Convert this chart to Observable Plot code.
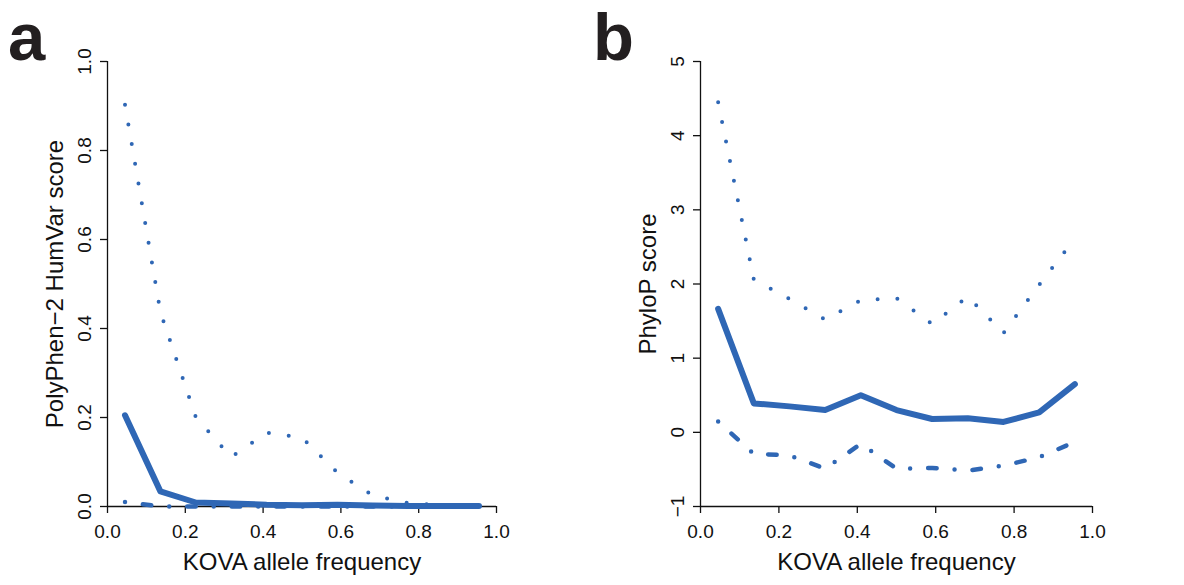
<!DOCTYPE html>
<html>
<head>
<meta charset="utf-8">
<script src="https://cdn.jsdelivr.net/npm/d3@7"></script>
<script src="https://cdn.jsdelivr.net/npm/@observablehq/plot@0.6"></script>
<style>
  html, body { margin: 0; padding: 0; background: #fff; }
  #wrap { position: relative; width: 1184px; height: 585px; overflow: hidden; font-family: "Liberation Sans", Arial, Helvetica, sans-serif; }
  .panel { position: absolute; top: 0; }
  .letter { position: absolute; font-weight: bold; font-size: 67px; line-height: 1; color: #231f20; font-family: "Liberation Sans", Arial, sans-serif; }
</style>
</head>
<body>
<div id="wrap">
  <div class="panel" id="pa" style="left:0px"></div>
  <div class="panel" id="pb" style="left:592px"></div>
  <div class="letter" style="left:8px; top:3px">a</div>
  <div class="letter" style="left:593px; top:3px">b</div>
</div>
<script>
// ---- data ----
const freq = [0.045, 0.136, 0.227, 0.318, 0.409, 0.5, 0.591, 0.682, 0.773, 0.864, 0.955];

// Panel a: PolyPhen-2 HumVar score
const aUpper  = [0.903, 0.437, 0.201, 0.111, 0.166, 0.155, 0.076, 0.025, 0.0075, 0.003, 0.002];
const aMedian = [0.205, 0.034, 0.009, 0.007, 0.004, 0.003, 0.004, 0.002, 0.001, 0.001, 0.001];
const aLower  = [0.010, 0.0, 0.0, 0.0, 0.0, 0.0, 0.0, 0.0, 0.0, 0.0, 0.0];

// Panel b: PhyloP score
const bUpper  = [4.45, 2.06, 1.80, 1.52, 1.78, 1.81, 1.46, 1.83, 1.34, 1.99, 2.61];
const bMedian = [1.665, 0.39, 0.35, 0.30, 0.50, 0.30, 0.18, 0.19, 0.14, 0.27, 0.65];
const bLower  = [0.146, -0.29, -0.31, -0.49, -0.155, -0.49, -0.48, -0.515, -0.45, -0.335, -0.13];

const xTicks = [0, 0.2, 0.4, 0.6, 0.8, 1.0];
const aYTicks = [0, 0.2, 0.4, 0.6, 0.8, 1.0];
const bYTicks = [-1, 0, 1, 2, 3, 4, 5];

const aYLabel = "PolyPhen\u22122 HumVar score";
const bYLabel = "PhyloP score";
const xLabel = "KOVA allele frequency";

// ---- drawing ----
const BLUE = "#2f67b5";
const FONT = "Liberation Sans, Arial, Helvetica, sans-serif";

function series(ys) { return freq.map((x, i) => ({x, y: ys[i]})); }

function panel({upper, median, lower, yDomain, yTicks, yFmt, yLabel, marginLeft, marginRight}) {
  const [y0, y1] = yDomain;
  return Plot.plot({
    width: 592,
    height: 585,
    marginTop: 61,
    marginBottom: 79,
    marginLeft,
    marginRight,
    x: {domain: [0, 1]},
    y: {domain: yDomain},
    style: {fontFamily: FONT, background: "transparent", overflow: "visible"},
    marks: [
      // axis lines
      Plot.ruleX([0], {y1: y0, y2: y1, stroke: "#111", strokeWidth: 1.3}),
      Plot.ruleY([y0], {x1: 0, x2: 1, stroke: "#111", strokeWidth: 1.3}),
      // x axis ticks + labels
      Plot.axisX({ticks: xTicks, tickSize: 7, tickPadding: 11, tickFormat: d3.format(".1f"),
                  fontSize: 19, color: "#111", strokeWidth: 1.3, label: null}),
      // y axis ticks
      Plot.axisY({ticks: yTicks, tickSize: 7, tickFormat: () => "", label: null, color: "#111", strokeWidth: 1.3}),
      // y tick labels, rotated as in R
      Plot.text(yTicks, {x: 0, y: d => d, text: d => yFmt(d), rotate: -90, dx: -23,
                         textAnchor: "middle", lineAnchor: "middle", fontSize: 19, fill: "#111"}),
      // axis titles
      Plot.text([xLabel], {frameAnchor: "bottom", dy: 63, lineAnchor: "bottom", fontSize: 24, fill: "#111"}),
      Plot.text([yLabel], {frameAnchor: "left", dx: -45, rotate: -90, textAnchor: "middle", lineAnchor: "bottom", fontSize: 24, fill: "#111"}),
      // data lines
      Plot.line(series(upper), {x: "x", y: "y", stroke: BLUE, strokeWidth: 4, strokeDasharray: "0 20", strokeLinecap: "round"}),
      Plot.line(series(lower), {x: "x", y: "y", stroke: BLUE, strokeWidth: 4.5, strokeDasharray: "0 18 8.5 18", strokeLinecap: "round"}),
      Plot.line(series(median), {x: "x", y: "y", stroke: BLUE, strokeWidth: 6, strokeLinecap: "round", strokeLinejoin: "round"})
    ]
  });
}

document.getElementById("pa").append(panel({
  upper: aUpper, median: aMedian, lower: aLower,
  yDomain: [0, 1], yTicks: aYTicks, yFmt: d3.format(".1f"), yLabel: aYLabel,
  marginLeft: 107, marginRight: 96
}));
document.getElementById("pb").append(panel({
  upper: bUpper, median: bMedian, lower: bLower,
  yDomain: [-1, 5], yTicks: bYTicks, yFmt: d => d < 0 ? "\u2212" + Math.abs(d) : String(d), yLabel: bYLabel,
  marginLeft: 108, marginRight: 92
}));
</script>
</body>
</html>
